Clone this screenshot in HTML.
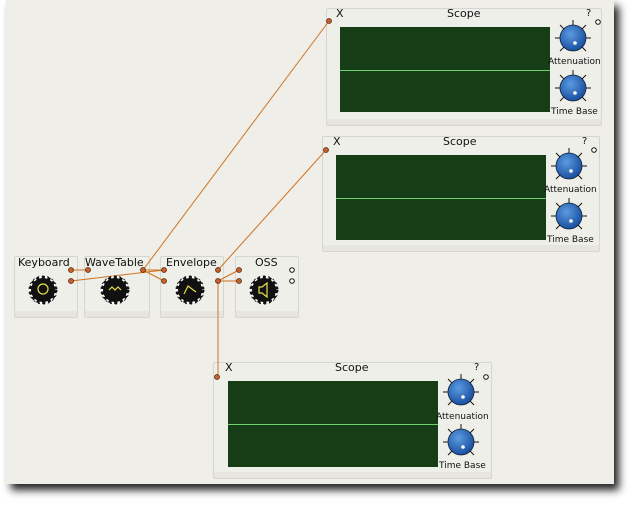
<!DOCTYPE html>
<html><head><style>
body{margin:0;width:637px;height:507px;background:#fff;position:relative;overflow:hidden;font-family:"DejaVu Sans","Liberation Sans",sans-serif;}
#win{position:absolute;left:6px;top:0;width:608px;height:484px;background:#efeee9;box-shadow:5px 6px 8px #222;}
.box{position:absolute;background:#efefea;border:1px solid #d6d5cf;border-radius:2px;box-shadow:inset 0 -6px 0 #e6e5e0;}
.t{position:absolute;font-size:10px;color:#111;}
.m{font-size:11px;}
.disp{position:absolute;background:#163d16;}
.disp i{position:absolute;left:0;right:0;top:50%;height:1px;background:#6fd26f;}
</style></head><body>
<div id="win"></div>

<div class="box" style="left:14px;top:256px;width:62px;height:60px"></div>
<div class="box" style="left:84px;top:256px;width:64px;height:60px"></div>
<div class="box" style="left:160px;top:256px;width:62px;height:60px"></div>
<div class="box" style="left:235px;top:256px;width:62px;height:60px"></div>
<div class="t m" style="left:18px;top:256px">Keyboard</div>
<div class="t m" style="left:85px;top:256px">WaveTable</div>
<div class="t m" style="left:166px;top:256px">Envelope</div>
<div class="t m" style="left:255px;top:256px">OSS</div>

<div class="box" style="left:326px;top:8px;width:274px;height:116px"></div>
<div class="disp" style="left:340px;top:27px;width:210px;height:85px"><i></i></div>
<div class="t m" style="left:336px;top:7px">X</div><div class="t m" style="left:447px;top:7px">Scope</div><div class="t" style="left:586px;top:8px">?</div>
<div class="t" style="left:548px;top:57px;font-size:9px">Attenuation</div><div class="t" style="left:551px;top:107px;font-size:9px">Time Base</div>

<div class="box" style="left:322px;top:136px;width:276px;height:114px"></div>
<div class="disp" style="left:336px;top:155px;width:210px;height:85px"><i></i></div>
<div class="t m" style="left:333px;top:135px">X</div><div class="t m" style="left:443px;top:135px">Scope</div><div class="t" style="left:582px;top:136px">?</div>
<div class="t" style="left:544px;top:185px;font-size:9px">Attenuation</div><div class="t" style="left:547px;top:235px;font-size:9px">Time Base</div>

<div class="box" style="left:213px;top:362px;width:277px;height:115px"></div>
<div class="disp" style="left:228px;top:381px;width:210px;height:86px"><i></i></div>
<div class="t m" style="left:225px;top:361px">X</div><div class="t m" style="left:335px;top:361px">Scope</div><div class="t" style="left:474px;top:362px">?</div>
<div class="t" style="left:436px;top:412px;font-size:9px">Attenuation</div><div class="t" style="left:439px;top:461px;font-size:9px">Time Base</div>

<svg width="637" height="507" style="position:absolute;left:0;top:0">
<defs>
<radialGradient id="kg" cx="40%" cy="35%" r="65%"><stop offset="0" stop-color="#5a9be0"/><stop offset="1" stop-color="#1a4fa0"/></radialGradient>
<g id="knob"><g stroke="#111" stroke-width="1">
<line x1="0" y1="-13" x2="0" y2="-18"/><line x1="9" y1="-9" x2="13" y2="-13"/><line x1="-9" y1="-9" x2="-13" y2="-13"/>
<line x1="13" y1="0" x2="18" y2="0"/><line x1="-13" y1="0" x2="-18" y2="0"/><line x1="9" y1="9" x2="13" y2="13"/><line x1="-9" y1="9" x2="-13" y2="13"/></g>
<circle r="13" fill="url(#kg)" stroke="#123" stroke-width="0.8"/><circle cx="2" cy="5" r="1.8" fill="#fff"/></g>
<g id="gear"><circle r="14" fill="#fff" stroke="#111" stroke-width="1" stroke-dasharray="2 3" opacity="0.9"/><circle r="12" fill="#111" stroke="#111" stroke-width="4" stroke-dasharray="3 2.5"/><circle r="9" fill="#111"/></g>
</defs>
<g fill="none" stroke="#d0731f" stroke-width="1">
<line x1="71" y1="270" x2="88" y2="270"/><line x1="71" y1="281" x2="164" y2="270"/>
<line x1="143" y1="270" x2="164" y2="270"/><line x1="143" y1="270" x2="164" y2="281"/>
<line x1="143" y1="270" x2="329" y2="21"/><line x1="218" y1="270" x2="326" y2="150"/>
<line x1="218" y1="281" x2="239" y2="270"/><line x1="218" y1="281" x2="239" y2="281"/>
<line x1="218" y1="281" x2="218" y2="377"/>
</g>
<g fill="#c8602a" stroke="#5a2a10" stroke-width="0.8">
<circle cx="71" cy="270" r="2.5"/><circle cx="71" cy="281" r="2.5"/><circle cx="88" cy="270" r="2.5"/><circle cx="143" cy="270" r="2.5"/>
<circle cx="164" cy="270" r="2.5"/><circle cx="164" cy="281" r="2.5"/><circle cx="218" cy="270" r="2.5"/><circle cx="218" cy="281" r="2.5"/>
<circle cx="239" cy="270" r="2.5"/><circle cx="239" cy="281" r="2.5"/>
<circle cx="329" cy="21" r="2.5"/><circle cx="326" cy="150" r="2.5"/><circle cx="217" cy="377" r="2.5"/>
</g>
<g fill="#fff" stroke="#111" stroke-width="1">
<circle cx="292" cy="270" r="2.3"/><circle cx="292" cy="281" r="2.3"/>
<circle cx="598" cy="22" r="2.3"/><circle cx="594" cy="150" r="2.3"/><circle cx="486" cy="377" r="2.3"/>
</g>
<use href="#gear" x="43" y="290"/><use href="#gear" x="115" y="290"/><use href="#gear" x="190" y="290"/><use href="#gear" x="264" y="290"/>
<g stroke="#e8e04a" fill="none" stroke-width="1.2">
<circle cx="43" cy="289" r="5"/><path d="M109 290 l3 -3 3 3 3 -3 3 3"/><path d="M184 294 l4 -8 8 6"/><path d="M259 287 h3 l5 -4 v14 l-5 -4 h-3z"/>
</g>
<use href="#knob" x="573" y="38"/><use href="#knob" x="573" y="88"/>
<use href="#knob" x="569" y="166"/><use href="#knob" x="569" y="216"/>
<use href="#knob" x="461" y="392"/><use href="#knob" x="461" y="442"/>
</svg>
</body></html>
